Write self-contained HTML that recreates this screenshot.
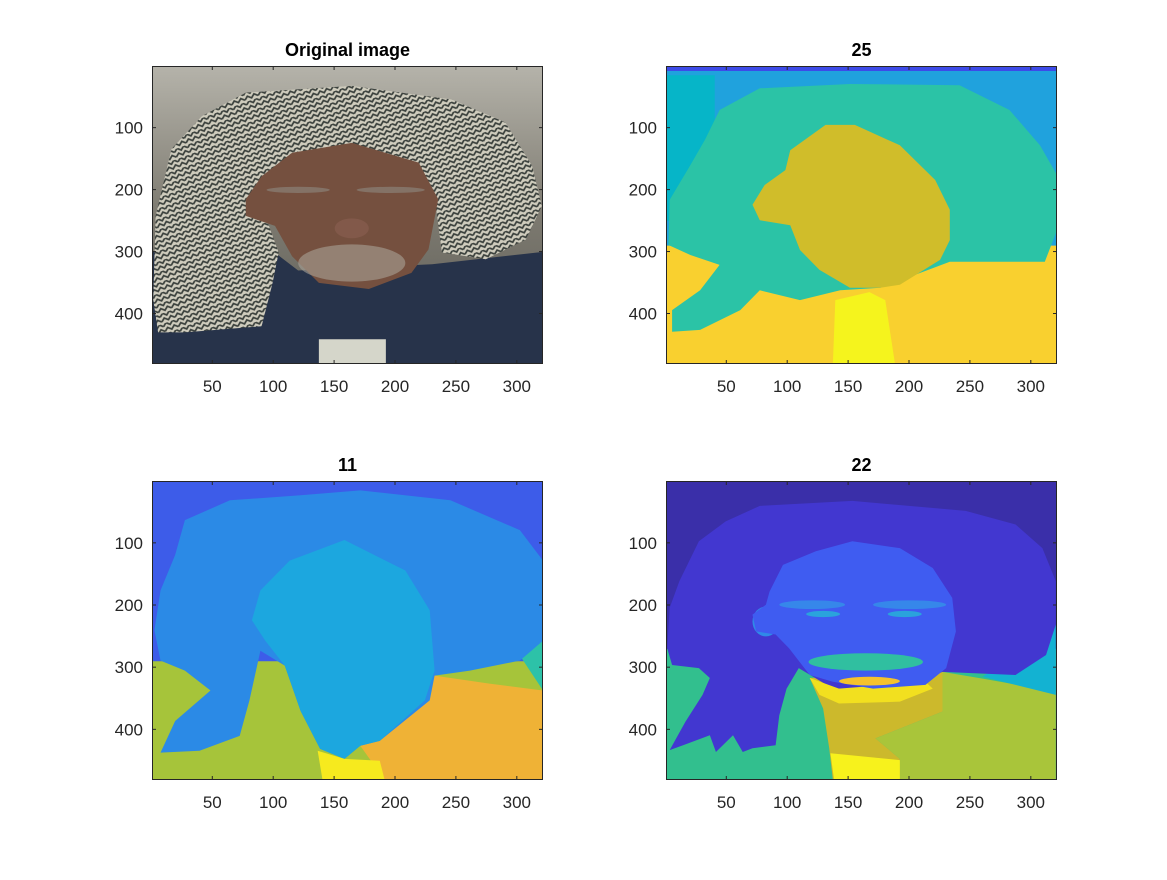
<!DOCTYPE html>
<html><head><meta charset="utf-8">
<style>
html,body{margin:0;padding:0;background:#fff;}
svg text{font-family:"Liberation Sans",sans-serif;}
</style></head>
<body>
<svg id="fig" width="1167" height="875" viewBox="0 0 1167 875" xmlns="http://www.w3.org/2000/svg">
<defs>
<pattern id="kef" width="14" height="10" patternUnits="userSpaceOnUse" patternTransform="rotate(-20)">
<rect width="14" height="10" fill="#cfccbd"/>
<path d="M0 3 L3.5 0 L7 3 L10.5 0 L14 3 M0 8 L3.5 5 L7 8 L10.5 5 L14 8" stroke="#3a403c" stroke-width="1.8" fill="none"/>
</pattern>
<linearGradient id="bgph" x1="0" y1="0" x2="0" y2="1">
<stop offset="0" stop-color="#b5b3aa"/><stop offset="0.5" stop-color="#7d7a70"/><stop offset="1" stop-color="#5a5a55"/>
</linearGradient>
</defs>
</svg>
<script>
const svgNS="http://www.w3.org/2000/svg";
const fig=document.getElementById('fig');
const imgW=321, imgH=481;
const xTicks=[50,100,150,200,250,300];
const yTicks=[100,200,300,400];
const titles=["Original image","25","11","22"];

const photoScarf=[77,43,164,32,246,54,290,91,312,161,320,226,307,280,274,312,238,301,233,226,213,183,164,161,109,183,90,226,104,301,99,350,90,420,27,430,5,430,1,377,3,242,16,134,41,81];
const photoFace=[90,178,115,140,164,124,219,156,235,215,227,296,213,334,178,360,137,350,115,307,101,258,77,242,77,215];
const photoJacket=[0,300,100,300,120,330,230,320,321,300,321,481,0,481];
const photoShirt=[137,441,192,441,192,481,137,481];

const s25Upper=[0,0,321,0,321,290,0,290];
const s25Cyan=[0,15,40,15,40,250,0,250];
const s25Top=[0,0,321,0,321,8,0,8];
const s25Scarf=[44,71,77,36,151,29,241,31,282,71,307,128,321,176,321,265,311,316,233,316,176,358,143,362,110,378,77,362,61,394,28,426,5,429,5,394,28,362,44,321,20,305,2,289,3,216,20,160,32,119];
const s25Face=[102,136,131,95,155,95,192,128,221,184,233,232,233,281,225,313,192,353,176,358,151,358,126,329,110,297,102,257,77,249,71,224,81,192,98,168];
const s25Bright=[139,378,167,365,180,378,188,481,137,481];

const s11Green=[0,290,321,290,321,481,0,481];
const s11Teal=[294,257,321,257,321,337];
const s11Orange=[171,426,228,337,232,313,277,326,321,337,321,481,191,481];
const s11Scarf=[27,63,64,31,122,23,171,15,245,31,302,79,321,128,321,257,302,289,261,305,232,313,228,353,187,418,171,426,158,447,138,431,122,370,109,297,89,273,80,353,72,410,39,434,7,437,19,386,48,337,27,305,7,289,2,240,7,176,19,119];
const s11Face=[89,176,113,128,158,95,208,144,228,208,232,305,224,353,187,418,171,426,158,447,138,431,122,370,109,297,93,257,82,224];
const s11Yellow=[136,434,158,447,187,450,191,481,140,481];

const s22Green=[0,270,321,270,321,481,0,481];
const s22GY=[227,307,260,318,320,339,320,481,192,481,192,447,172,414,227,371];
const s22Cyan=[260,315,320,231,320,344];
const s22Olive=[118,317,227,307,227,371,172,414,192,447,192,481,137,481,134,430,129,366];
const s22Bright=[135,438,192,449,192,481,138,481];
const s22Scarf=[77,40,153,32,246,48,287,70,309,108,320,161,320,231,312,280,287,312,227,307,192,334,137,334,109,301,99,334,93,377,90,425,71,430,63,436,55,409,41,436,36,409,14,425,3,433,16,387,30,344,36,317,27,301,5,296,1,269,3,204,11,161,27,97,49,65];
const s22Face=[85,178,96,135,123,113,153,97,192,108,219,140,235,188,238,242,230,301,213,328,170,334,137,323,118,312,101,269,90,247,74,242,71,215,82,199];
const s22Band=[118,317,142,334,213,323,219,334,192,355,142,358,126,344];
const s22Ear=[82,226,11,24];
const s22Brows=[120,199,27,7,200,199,30,7];
const s22Eyes=[129,214,14,5,196,214,14,5];
const s22Mouth=[164,291,47,14];
const s22Lip=[167,322,25,7];

const axesPos=[[152,66,391,298],[666,66,391,298],[152,481,391,299],[666,481,391,299]];

function mk(tag,attrs,parent){const e=document.createElementNS(svgNS,tag);for(const k in attrs)e.setAttribute(k,attrs[k]);(parent||fig).appendChild(e);return e;}

axesPos.forEach((a,i)=>{
  const [L,T,W,H]=a;
  const sx=x=>L+(x)*W/imgW;
  const sy=y=>T+(y)*H/imgH;
  const g=mk('g',{});
  
  
  const cp=mk('clipPath',{id:'cp'+i},g);
  mk('rect',{x:L,y:T,width:W,height:H},cp);
  const ig=mk('g',{'clip-path':'url(#cp'+i+')'},g);
  
  
  function poly(pts,fill,name,op){
    let s=[];for(let k=0;k<pts.length;k+=2)s.push(sx(pts[k])+','+sy(pts[k+1]));
    const p=mk('polygon',{points:s.join(' '),fill:fill,'fill-opacity':op||1},ig);
    
    
  }
  function ell(arr,fill,name,op){
    for(let k=0;k<arr.length;k+=4){
      const e=mk('ellipse',{cx:sx(arr[k]),cy:sy(arr[k+1]),rx:arr[k+2]*W/imgW,ry:arr[k+3]*H/imgH,fill:fill,'fill-opacity':op||1},ig);
      
      
    }
  }
  function bg(fill,name){const r=mk('rect',{x:L,y:T,width:W,height:H,fill:fill},ig);}
  if(i===0){
    bg('url(#bgph)','photo-background');
    poly(photoJacket,'#27334a','jacket');
    poly(photoShirt,'#d5d6ca','shirt');
    poly(photoScarf,'url(#kef)','headscarf');
    poly(photoFace,'#75503f','face');
    ell([164,318,44,30],'#a8a196','beard',0.6);
    ell([120,200,26,5,196,200,28,5],'#8a8078','eyebrows',0.7);
    ell([164,262,14,16],'#82594a','nose');
  } else if(i===1){
    bg('#f9d02f','region-bottom');
    poly(s25Upper,'#20a2dd','region-upper');
    poly(s25Cyan,'#06b5c8','region-left');
    poly(s25Top,'#3d4be8','region-top');
    poly(s25Scarf,'#2bc3a6','region-scarf');
    poly(s25Face,'#d0bd2a','region-face');
    poly(s25Bright,'#f5f41d','region-neck');
  } else if(i===2){
    bg('#3d5ce9','region-background');
    poly(s11Green,'#a6c43a','region-left-bottom');
    poly(s11Teal,'#2dc2a8','region-right-edge');
    poly(s11Orange,'#efb236','region-right-bottom');
    poly(s11Scarf,'#2b8ae6','region-scarf');
    poly(s11Face,'#1ca7df','region-face');
    poly(s11Yellow,'#f6ea1e','region-neck');
  } else {
    bg('#3a2fa9','region-background');
    poly(s22Green,'#32bf8e','region-left-bottom');
    poly(s22GY,'#a9c53a','region-right-bottom');
    poly(s22Cyan,'#13b2d2','region-right-edge');
    poly(s22Olive,'#ccb92c','region-neck');
    poly(s22Bright,'#f7f21c','region-neck-bottom');
    poly(s22Scarf,'#4237d0','region-scarf');
    poly(s22Band,'#f2e01f','region-chin');
    ell(s22Ear,'#2f8ae8','region-ear');
    poly(s22Face,'#3f5cf1','region-face');
    ell(s22Brows,'#3687ea','region-eyebrow');
    ell(s22Eyes,'#2aa3dc','region-eye');
    ell(s22Mouth,'#30bfa0','region-mouth');
    ell(s22Lip,'#f5c22c','region-lip');
  }
  const fr=mk('rect',{x:L+0.5,y:T+0.5,width:W-1,height:H-1,fill:'none',stroke:'#262626','stroke-width':1},g);
  
  
  xTicks.forEach(v=>{
    const x=sx(v-0.5);
    mk('line',{x1:x,y1:T+H,x2:x,y2:T+H-4,stroke:'#262626'},g);
    mk('line',{x1:x,y1:T,x2:x,y2:T+4,stroke:'#262626'},g);
    const t=mk('text',{x:x,y:T+H+28,'text-anchor':'middle','font-size':'17',fill:'#262626'},g);
    t.textContent=v;
    
    
  });
  yTicks.forEach(v=>{
    const y=sy(v-0.5);
    mk('line',{x1:L,y1:y,x2:L+4,y2:y,stroke:'#262626'},g);
    mk('line',{x1:L+W,y1:y,x2:L+W-4,y2:y,stroke:'#262626'},g);
    const t=mk('text',{x:L-9,y:y+6,'text-anchor':'end','font-size':'17',fill:'#262626'},g);
    t.textContent=v;
    
    
  });
  const tt=mk('text',{x:L+W/2,y:T-10,'text-anchor':'middle','font-size':'18','font-weight':'bold',fill:'#000'},g);
  tt.textContent=titles[i];
  
  
});
</script>
</body></html>
